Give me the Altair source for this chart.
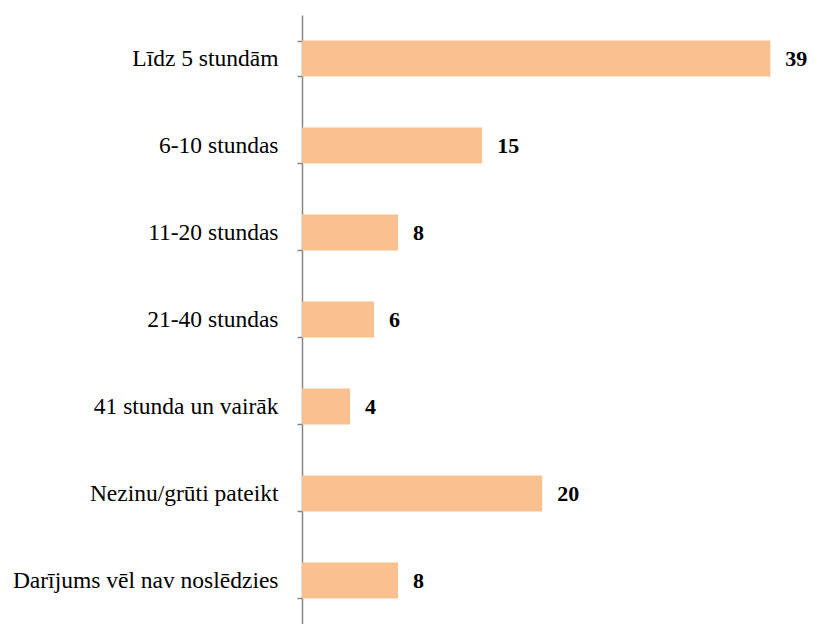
import altair as alt
import pandas as pd

categories = [
    "Līdz 5 stundām",
    "6-10 stundas",
    "11-20 stundas",
    "21-40 stundas",
    "41 stunda un vairāk",
    "Nezinu/grūti pateikt",
    "Darījums vēl nav noslēdzies",
]
values = [39, 15, 8, 6, 4, 20, 8]

df = pd.DataFrame({"cat": categories, "val": values})

FONT = "Times New Roman, Liberation Serif, serif"

y = alt.Y(
    "cat:N",
    sort=categories,
    title=None,
    scale=alt.Scale(paddingInner=0.59, paddingOuter=0.295),
    axis=alt.Axis(
        tickBand="extent",
        domainColor="#868686",
        domainWidth=1.5,
        tickColor="#868686",
        tickWidth=1.5,
        tickSize=5,
        labelPadding=19,
        labelFont=FONT,
        labelFontSize=23.5,
        labelColor="#000000",
        labelLimit=400,
        grid=False,
    ),
)
x = alt.X("val:Q", scale=alt.Scale(domain=[0, 42.3], nice=False), axis=None)

bars = alt.Chart(df).mark_bar(color="#FAC090", size=36).encode(x=x, y=y)
labels = alt.Chart(df).mark_text(
    align="left", baseline="middle", dx=15, font=FONT, fontSize=22, fontWeight="bold", color="#000000"
).encode(x=x, y=y, text="val:Q")

chart = (
    (bars + labels)
    .properties(
        width=508,
        height=609,
        autosize=alt.AutoSizeParams(type="none"),
        padding={"left": 294, "top": 7, "right": 0, "bottom": 0},
    )
    .configure_view(stroke=None)
    .configure_axis(labelFont=FONT)
    .configure_text(font=FONT)
)

chart.save("out.html", embed_options={"renderer": "svg", "actions": False})
